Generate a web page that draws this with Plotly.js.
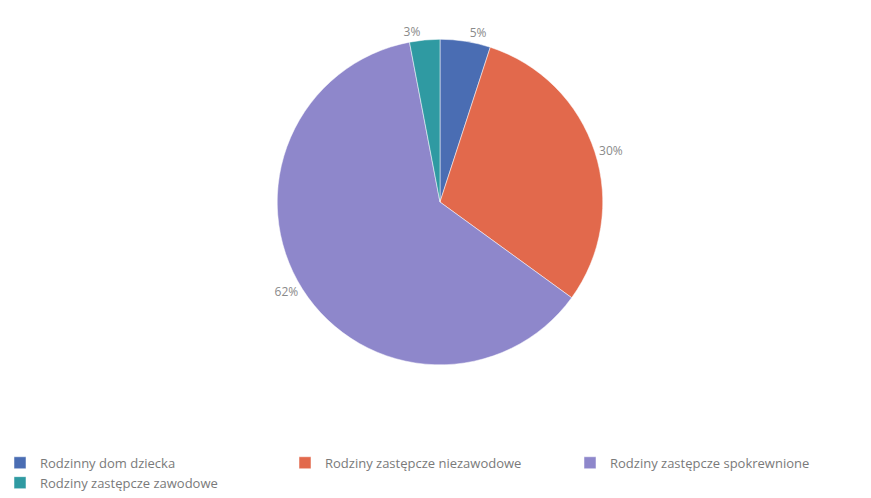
<!DOCTYPE html>
<html>
<head>
<meta charset="utf-8">
<script src="https://cdn.plot.ly/plotly-3.0.1.min.js"></script>
<style>
  html, body { margin: 0; padding: 0; background: #fff; }
  #chart { width: 871px; height: 498px; }
</style>
</head>
<body>
<div id="chart"></div>
<script>
// kategorie i udziały (%)
const categories = [
    'Rodzinny dom dziecka',
    'Rodziny zastępcze niezawodowe',
    'Rodziny zastępcze spokrewnione',
    'Rodziny zastępcze zawodowe'
];
const shares = [5, 30, 62, 3];
const colors = ['#4a6db3', '#e2694c', '#8e87cb', '#2f9aa2'];

const data = [{
    type: 'pie',
    labels: categories,
    values: shares,
    sort: false,
    direction: 'clockwise',
    rotation: 0,
    marker: { colors: colors, line: { color: '#ffffff', width: 0.5 } },
    textinfo: 'percent',
    texttemplate: '%{value}%',
    textposition: 'outside',
    outsidetextfont: { family: 'Open Sans', size: 12, color: '#8a8a8a' },
    hoverinfo: 'label+percent',
    domain: { x: [0.3157, 0.6946], y: [0.257, 0.92] }
}];

const layout = {
    width: 871,
    height: 498,
    margin: { l: 0, r: 0, t: 0, b: 0 },
    paper_bgcolor: '#ffffff',
    showlegend: true,
    legend: {
        orientation: 'h',
        x: 0,
        xanchor: 'left',
        y: 0.088,
        yanchor: 'top',
        entrywidth: 240,
        entrywidthmode: 'pixels',
        traceorder: 'normal',
        font: { family: 'Open Sans', size: 13, color: '#7a7a7a' },
        tracegroupgap: 0
    }
};

Plotly.newPlot('chart', data, layout, { displayModeBar: false, staticPlot: true });
</script>
</body>
</html>
